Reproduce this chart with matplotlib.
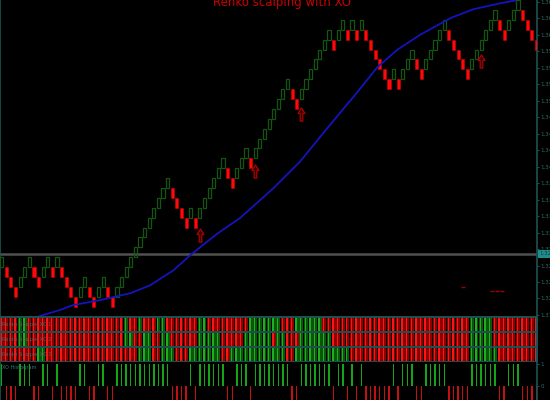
import matplotlib
matplotlib.use('Agg')
import matplotlib.pyplot as plt
import numpy as np
from matplotlib.path import Path

# ---------------- data ----------------
title = "Renko scalping with XO"
brick_size = 0.0015
brick_base = 1.31875
brick_levels = [4, 3, 2, 1, 2, 3, 4, 3, 2, 3,
                4, 3, 4, 3, 2, 1, 0, 1, 2, 1,
                0, 1, 2, 1, 0, 1, 2, 3, 4, 5,
                6, 7, 8, 9, 10, 11, 12, 11, 10, 9,
                8, 9, 8, 9, 10, 11, 12, 13, 14, 13,
                12, 13, 14, 15, 14, 15, 16, 17, 18, 19,
                20, 21, 22, 21, 20, 21, 22, 23, 24, 25,
                26, 27, 26, 27, 28, 27, 28, 27, 28, 27,
                26, 25, 24, 23, 22, 23, 22, 23, 24, 25,
                24, 23, 24, 25, 26, 27, 28, 27, 26, 25,
                24, 23, 24, 25, 26, 27, 28, 29, 28, 27,
                28, 29, 30, 29, 28, 27, 26]

ma_x = [7.1, 9.3, 13.6, 16.5, 22.3, 28.9, 33.2, 38.2, 42.3, 47.7, 52.7,
        59.9, 65.7, 72.2, 78.1, 82.4, 86.8, 91.7, 98.3, 103.3, 109.1, 112.4]
ma_y = [1.31675, 1.31735, 1.31825, 1.31900, 1.31975, 1.32080, 1.32200,
        1.32425, 1.32680, 1.32980, 1.33220, 1.33670, 1.34075, 1.34630,
        1.35125, 1.35500, 1.35770, 1.35995, 1.36250, 1.36385, 1.36475, 1.36520]

arrow_x = [44, 56, 66, 105]
arrow_y = [1.32965, 1.33940, 1.34795, 1.35605]

signal_x = [101, 107.4, 108.5, 109.5]
signal_y = [1.32170, 1.32110, 1.32110, 1.32110]

price_line = 1.3268
price_label = "1.3268"

y_ticks = [1.3650 - 0.0025 * k for k in range(20)]

strip_labels = ["Renko Scalper XO 1", "Renko Scalper XO 2", "Renko Scalper XO 3"]
strip1_green = [5, 6, 28, 31, 35, 36, 44, 45, 55, 56, 57, 58, 59, 60, 61,
                65, 66, 67, 68, 69, 70, 103, 104, 105, 106, 107]
strip2_green = [5, 6, 28, 29, 32, 33, 36, 37, 44, 45, 46, 47, 48, 54, 55, 56,
                57, 58, 59, 61, 62, 66, 67, 68, 69, 70, 71, 72,
                103, 104, 105, 106, 107]
strip3_green = [9, 10, 31, 32, 33, 36, 37, 38, 42, 43, 44, 45, 46, 47, 48,
                51, 52, 53, 54, 55, 56, 57, 58, 59, 60, 61, 62, 65, 66, 67,
                68, 69, 70, 71, 72, 73, 74, 75, 76, 103, 104, 105, 106, 107, 108]
histo_label = "XO Histogram"

# ---------------- styling ----------------
BG = 'black'
TEAL = '#1d5252'
LBL = '#2f6d6d'
n = len(brick_levels)
idx = np.arange(1, n + 1)
levels = np.array(brick_levels)
dirs = np.ones(n, dtype=int)
dirs[1:] = np.sign(np.diff(levels))
lows = brick_base + levels * brick_size
xlim = (1 - 1.7 / 4.61, 1 + (537 - 1.7) / 4.61)

fig = plt.figure(figsize=(5.5, 4), dpi=100, facecolor=BG)

# ---------------- main panel ----------------
ax = fig.add_axes([0, 84 / 400, 537 / 550, 316 / 400], facecolor=BG)
ax.set_xlim(*xlim)
ax.set_ylim(1.317345, 1.365255)

g = dirs > 0
r = ~g
ax.bar(idx[g], brick_size, bottom=lows[g], width=0.68, facecolor='none',
       edgecolor='#125612', linewidth=0.9, zorder=3)
ax.bar(idx[r], brick_size, bottom=lows[r], width=0.68, facecolor='#ff0a0a',
       edgecolor='#d00000', linewidth=0.4, zorder=3)

ax.plot(ma_x, ma_y, color='#1414bc', lw=1.3, zorder=4)
ax.axhline(price_line, color='#505050', lw=1.8, zorder=2)

arrow_path = Path([(0, 0.5), (0.26, 0.08), (0.1, 0.08), (0.1, -0.5),
                   (-0.1, -0.5), (-0.1, 0.08), (-0.26, 0.08), (0, 0.5)],
                  [Path.MOVETO] + [Path.LINETO] * 6 + [Path.CLOSEPOLY])
ax.scatter(arrow_x, arrow_y, marker=arrow_path, s=90, facecolor='#2a0000',
           edgecolor='#b00000', linewidths=0.9, zorder=5)
ax.scatter(signal_x, signal_y, marker='_', s=6, color='#a00000', linewidths=1.0, zorder=5)

for s in ['top', 'bottom']:
    ax.spines[s].set_visible(False)
for s in ['left', 'right']:
    ax.spines[s].set_color(TEAL)
    ax.spines[s].set_linewidth(1.2)
ax.set_xticks([])
ax.yaxis.tick_right()
ax.set_yticks(y_ticks)
ax.set_yticklabels([f"{v:.4f}" for v in y_ticks])
ax.tick_params(axis='y', colors=TEAL, labelcolor=LBL, labelsize=4.0, length=1.5, pad=1)
ax.text(1.004, price_line, price_label, transform=ax.get_yaxis_transform(),
        fontsize=4.0, color='#0b3b3b', va='center', ha='left',
        bbox=dict(boxstyle='square,pad=0.25', facecolor='#1f8c8c', edgecolor='none'))

fig.text(282 / 550, 1 - 6.0 / 400, title, ha='center', va='baseline',
         color='#cc0000', fontsize=8.5, family=['Liberation Sans Narrow', 'DejaVu Sans'])

# ---------------- strips ----------------
def draw_strip(axs, greens, label):
    is_g = np.isin(idx, greens)
    dark = np.where(is_g, '#0b560b', '#8c0000')
    bright = np.where(is_g, '#1fae1f', '#ff1414')
    axs.bar(idx, 1, width=0.84, color=dark, linewidth=0)
    axs.bar(idx - 0.14, 1, width=0.3, color=bright, linewidth=0)
    axs.set_xlim(*xlim)
    axs.set_ylim(-0.06, 1.06)
    axs.set_xticks([]); axs.set_yticks([])
    for s in axs.spines.values():
        s.set_color(TEAL); s.set_linewidth(1.4)
    axs.text(0.004, 0.5, label, transform=axs.transAxes, fontsize=3.6,
             color='#5e5e5e', va='center', ha='left', zorder=5)

strip_pos = [(332, 316.5), (347, 332), (362, 347)]
for (ybot, ytop), greens, lab in zip(strip_pos, [strip1_green, strip2_green, strip3_green], strip_labels):
    a = fig.add_axes([0, (400 - ybot) / 400, 537 / 550, (ybot - ytop) / 400], facecolor=BG)
    draw_strip(a, greens, lab)

# ---------------- bottom histogram ----------------
ah = fig.add_axes([0, 0, 537 / 550, 38 / 400], facecolor=BG)
ah.bar(idx[g], 1, width=0.3, color='#16a416', linewidth=0)
ah.bar(idx[r], -1, width=0.3, color='#c41010', linewidth=0)
ah.set_xlim(*xlim)
ah.set_ylim(-0.65, 1.1)
ah.set_xticks([])
ah.yaxis.tick_right()
ah.set_yticks([1, 0])
ah.set_yticklabels(['1', '0'])
ah.tick_params(axis='y', colors=TEAL, labelcolor=LBL, labelsize=4.0, length=1.5, pad=1)
for s in ['top', 'bottom']:
    ah.spines[s].set_visible(False)
for s in ['left', 'right']:
    ah.spines[s].set_color(TEAL); ah.spines[s].set_linewidth(1.2)
ah.text(0.004, 0.93, histo_label, transform=ah.transAxes, fontsize=3.6,
        color='#2a7a7a', va='top', ha='left')

fig.savefig('out.png', dpi=100, facecolor=BG)
